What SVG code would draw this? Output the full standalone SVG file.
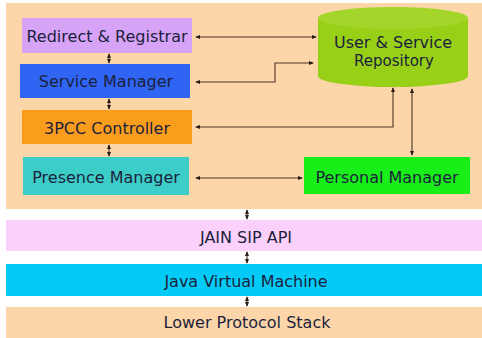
<svg xmlns="http://www.w3.org/2000/svg" width="482" height="338" viewBox="0 0 482 338">
  <defs>
    <marker id="tip" viewBox="0 0 6 6" refX="5" refY="3" markerWidth="5" markerHeight="5" orient="auto-start-reverse" markerUnits="userSpaceOnUse">
      <path d="M0,0.5 L6,3 L0,5.5 Z" fill="#2a1c14"/>
    </marker>
  </defs>
  <style>
    text { font-family: "DejaVu Sans", "Liberation Sans", sans-serif; font-size: 16px; fill: #1c1f3c; text-anchor: middle; }
    .store { font-size: 15px; }
    .link { fill: none; stroke: #4a3328; stroke-width: 1.1; marker-start: url(#tip); marker-end: url(#tip); }
  </style>

  <rect width="482" height="338" fill="#ffffff"/>

  <!-- server panel -->
  <rect id="server-panel" x="6" y="3" width="476" height="206" fill="#fcd6a9"/>

  <g id="redirect-registrar">
    <rect x="22" y="18" width="170" height="35" fill="#d6a3f6"/>
    <text x="107" y="42">Redirect &amp; Registrar</text>
  </g>
  <g id="service-manager">
    <rect x="20" y="64" width="170" height="34" fill="#2f65f2"/>
    <text x="106" y="87">Service Manager</text>
  </g>
  <g id="pcc-controller">
    <rect x="22" y="110" width="170" height="34" fill="#fb9d1c"/>
    <text x="107" y="134">3PCC Controller</text>
  </g>
  <g id="presence-manager">
    <rect x="23" y="157" width="166" height="38" fill="#3ccdc8"/>
    <text x="106" y="183">Presence Manager</text>
  </g>
  <g id="personal-manager">
    <rect x="304" y="157" width="166" height="37" fill="#18ef18"/>
    <text x="387" y="183">Personal Manager</text>
  </g>
  <g id="repository">
    <path d="M318,18 L318,76 A75,11 0 0 0 468,76 L468,18 Z" fill="#98cf17"/>
    <ellipse cx="393" cy="18" rx="75" ry="11" fill="#a3d52a"/>
    <text class="store" x="393" y="48" textLength="118" lengthAdjust="spacingAndGlyphs">User &amp; Service</text>
    <text class="store" x="394" y="66">Repository</text>
  </g>

  <!-- platform layers -->
  <g id="jain-sip-api">
    <rect x="6" y="220" width="476" height="31" fill="#fbd1fb"/>
    <text x="246" y="243">JAIN SIP API</text>
  </g>
  <g id="java-vm">
    <rect x="6" y="264" width="476" height="32" fill="#02cbf7"/>
    <text x="246" y="287">Java Virtual Machine</text>
  </g>
  <g id="lower-stack">
    <rect x="6" y="307" width="476" height="31" fill="#fcd6a9"/>
    <text x="247" y="328">Lower Protocol Stack</text>
  </g>

  <g id="connectors">
    <line class="link" x1="109" y1="54" x2="109" y2="63"/>
    <line class="link" x1="109" y1="99" x2="109" y2="109"/>
    <line class="link" x1="109" y1="145" x2="109" y2="156"/>
    <line class="link" x1="196" y1="37" x2="316" y2="37"/>
    <polyline class="link" points="196,82 275,82 275,63 313,63"/>
    <polyline class="link" points="196,127 393,127 393,88"/>
    <line class="link" x1="412" y1="89" x2="412" y2="155"/>
    <line class="link" x1="196" y1="178" x2="302" y2="178"/>
    <line class="link" x1="247" y1="210" x2="247" y2="219"/>
    <line class="link" x1="247" y1="252" x2="247" y2="263"/>
    <line class="link" x1="247" y1="297" x2="247" y2="306"/>
  </g>
</svg>
